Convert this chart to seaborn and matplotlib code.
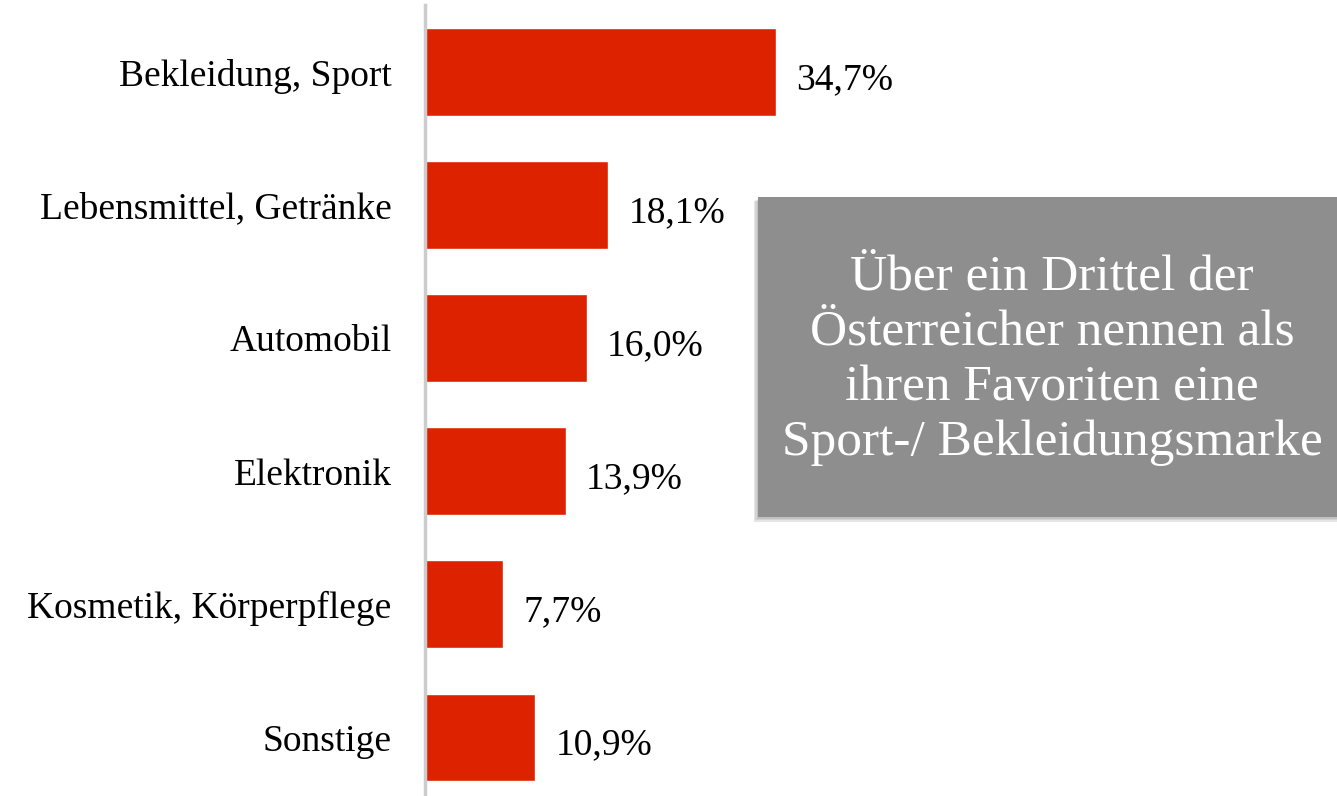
import matplotlib
matplotlib.use("Agg")
import matplotlib.pyplot as plt
from matplotlib.patches import Rectangle
import seaborn as sns
import pandas as pd

# data
categories = ["Bekleidung, Sport", "Lebensmittel, Getränke", "Automobil",
              "Elektronik", "Kosmetik, Körperpflege", "Sonstige"]
shares = [34.7, 18.1, 16.0, 13.9, 7.7, 10.9]
box_text = "Über ein Drittel der\nÖsterreicher nennen als\nihren Favoriten eine\nSport-/ Bekleidungsmarke"

df = pd.DataFrame({"Kategorie": categories, "Anteil": shares})

sns.set_style("white")
plt.rcParams["font.family"] = ["Liberation Serif", "DejaVu Serif"]

fig = plt.figure(figsize=(13.37, 7.96), dpi=100)
ax = fig.add_axes([425 / 1337, 0, 912 / 1337, 791 / 796])

sns.barplot(data=df, x="Anteil", y="Kategorie", orient="h", color="#DD2200",
            saturation=1, width=0.66, ax=ax)

ax.set_xlim(0, 90.1)
ax.set_ylim(5.44, -0.504)
ax.set_xlabel("")
ax.set_ylabel("")
ax.set_xticks([])
for side in ["top", "right", "bottom"]:
    ax.spines[side].set_visible(False)
ax.spines["left"].set_color("#CCCCCC")
ax.spines["left"].set_linewidth(2.5)
ax.tick_params(axis="y", length=0, pad=24, labelsize=27, labelcolor="black")

for i, v in enumerate(shares):
    ax.text(v + 2.0, i + 0.06, f"{v:.1f}%".replace(".", ","), va="center",
            ha="left", fontsize=27, color="black")

# callout box with soft shadow
x0, y0, w, h = 758 / 1337, (796 - 517) / 796, 600 / 1337, 320 / 796
for k, a in enumerate([0.08, 0.08, 0.10]):
    off = (k + 1) * 1.5
    fig.patches.append(Rectangle((x0 - off / 1337, y0 - off / 796), w, h,
                                 transform=fig.transFigure, color="black",
                                 alpha=a, lw=0, zorder=1))
fig.patches.append(Rectangle((x0, y0), w, h, transform=fig.transFigure,
                             color="#8E8E8E", lw=0, zorder=2))
fig.text(1052 / 1337, (796 - 360) / 796, box_text, ha="center", va="center",
         color="white", fontsize=37, linespacing=1.25, zorder=3)

fig.savefig("out.png", dpi=100)
